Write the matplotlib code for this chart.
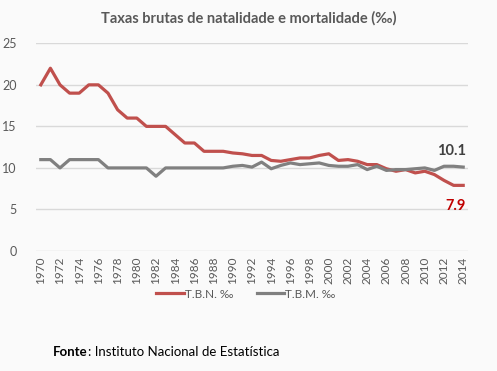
import numpy as np
import matplotlib.pyplot as plt

years = list(range(1970, 2015))
tbn = [20, 22, 20, 19, 19, 20, 20, 19, 17, 16, 16, 15, 15, 15, 14, 13, 13, 12, 12, 12,
       11.8, 11.7, 11.5, 11.5, 10.9, 10.8, 11.0, 11.2, 11.2, 11.5, 11.7, 10.9, 11.0, 10.8,
       10.4, 10.4, 9.9, 9.6, 9.8, 9.4, 9.6, 9.2, 8.5, 7.9, 7.9]
tbm = [11, 11, 10, 11, 11, 11, 11, 10, 10, 10, 10, 10, 9, 10, 10, 10, 10, 10, 10, 10,
       10.2, 10.3, 10.1, 10.7, 9.9, 10.3, 10.6, 10.4, 10.5, 10.6, 10.3, 10.2, 10.2, 10.4,
       9.8, 10.2, 9.7, 9.8, 9.8, 9.9, 10.0, 9.7, 10.2, 10.2, 10.1]

plt.rcParams['font.family'] = ['Lato', 'DejaVu Sans']

fig = plt.figure(figsize=(4.97, 3.71), dpi=100, facecolor='#fafafa')
ax = fig.add_axes([36/497, 1 - 251/371, 432/497, (251 - 43.3)/371])
ax.set_facecolor('#fafafa')

ax.plot(years, tbn, color='#c0504d', lw=2.3, label='T.B.N. ‰', solid_joinstyle='round')
ax.plot(years, tbm, color='#808080', lw=2.3, label='T.B.M. ‰', solid_joinstyle='round')

ax.set_xlim(1969.5, 2014.5)
ax.set_ylim(0, 25)
ax.set_yticks(range(0, 26, 5))
ax.set_xticks(years[::2])
ax.set_xticklabels([str(y) for y in years[::2]], rotation=90)
ax.tick_params(axis='both', length=0, labelsize=8.5, colors='#595959')
ax.tick_params(axis='y', labelsize=9, pad=14)
ax.tick_params(axis='x', pad=4)
ax.grid(axis='y', color='#d9d9d9', lw=1)
ax.set_axisbelow(True)
for s in ax.spines.values():
    s.set_visible(False)

ax.text(2014.3, tbm[-1] + 1.1, '10.1', ha='right', va='bottom', fontsize=10.5,
        fontweight='bold', color='#404040')
ax.text(2014.3, tbn[-1] - 1.7, '7.9', ha='right', va='top', fontsize=10.5,
        fontweight='bold', color='#c00000')

fig.text(0.5, 1 - 18/371, 'Taxas brutas de natalidade e mortalidade (‰)', ha='center',
         va='center', fontsize=10.5, fontweight='bold', color='#595959')

leg = fig.legend(loc='center', bbox_to_anchor=(246/497, 1 - 294/371), ncol=2, frameon=False,
                 fontsize=8.5, handlelength=2.3, columnspacing=2.0, handletextpad=0.1)
for t in leg.get_texts():
    t.set_color('#595959')

r = fig.canvas.get_renderer()
t1 = fig.text(53/497, 1 - 352/371, 'Fonte', fontsize=9.5, fontweight='bold', va='center',
              color='black')
bb = t1.get_window_extent(renderer=r)
fig.text(bb.x1 / fig.bbox.width, 1 - 352/371, ': Instituto Nacional de Estatística',
         fontsize=9.5, va='center', color='black')

fig.savefig('out.png', dpi=100, facecolor=fig.get_facecolor())
